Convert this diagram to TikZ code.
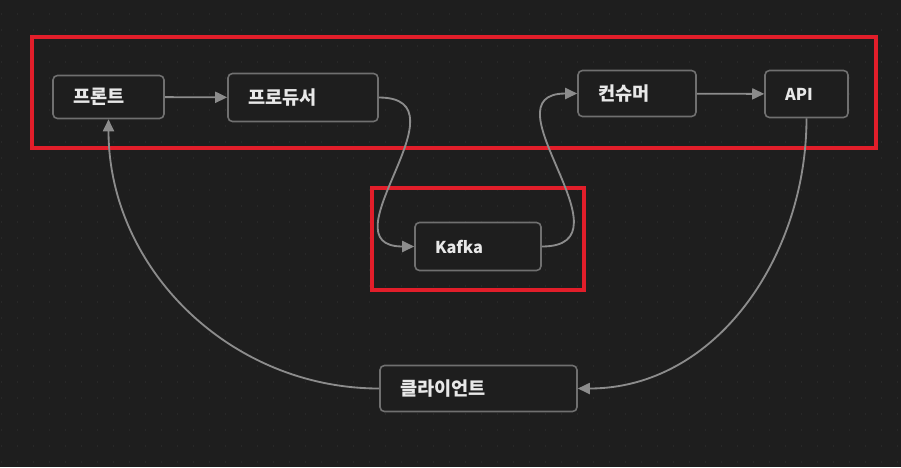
\documentclass[tikz,border=0pt]{standalone}
\usepackage{fontspec}
\setmainfont{Noto Sans CJK KR}
\usetikzlibrary{arrows.meta}
\definecolor{canvasbg}{RGB}{30,30,30}
\definecolor{griddot}{RGB}{52,52,52}
\definecolor{boxline}{RGB}{112,112,112}
\definecolor{boxfill}{RGB}{30,30,30}
\definecolor{linkgrey}{RGB}{140,140,140}
\definecolor{hilite}{RGB}{226,30,42}
\definecolor{labeltext}{RGB}{232,232,232}
\tikzset{
  box/.style={rectangle, rounded corners=2.5pt, draw=boxline, fill=boxfill, line width=0.9pt, text=labeltext, font=\bfseries\fontsize{10.6}{12}\selectfont, align=left, inner xsep=0.4cm, inner ysep=0pt},
  latbox/.style={box, font=\bfseries\fontsize{9.3}{11}\selectfont},
  arr/.style={-{Triangle[length=2.4mm,width=2.2mm]}, line width=1.05pt, draw=linkgrey},
  zone/.style={draw=hilite, line width=2.3pt},
  dot/.style={fill=griddot},
}

\begin{document}
\begin{tikzpicture}[x=0.02cm,y=-0.02cm]
  \fill[canvasbg] (0,0) rectangle (901,467);
  \useasboundingbox (0,0) rectangle (901,467);
  \foreach \gx in {1.5,17.5,...,900}{
    \foreach \gy in {14,30,...,466}{\fill[dot] (\gx,\gy) circle (0.7);}
  }
  \draw[zone] (32,37) rectangle (876,148);
  \draw[zone] (372,188) rectangle (584,290);
  \node[box,text width=1.42cm,minimum height=0.86cm] (front) at (108.5,97) {프론트};
  \node[box,text width=2.2cm,minimum height=0.96cm] (producer) at (303,97.5) {프로듀서};
  \node[box,text width=1.56cm,minimum height=0.92cm] (consumer) at (637,93.5) {컨슈머};
  \node[latbox,text width=0.86cm,minimum height=0.94cm] (api) at (806.5,94) {API};
  \node[latbox,text width=1.72cm,minimum height=0.96cm] (kafka) at (478,246.5) {Kafka};
  \node[box,text width=3.14cm,minimum height=0.92cm] (client) at (478.5,388.5) {클라이언트};
  \draw[arr] (front) -- (producer);
  \draw[arr] (consumer) -- (api);
  \draw[arr] (producer.east) to[out=0,in=180,looseness=1.55] (kafka.west);
  \draw[arr] (kafka.east) to[out=0,in=180,looseness=1.55] (consumer.west);
  \draw[arr] (api.south) to[out=-90,in=0] (client.east);
  \draw[arr] (client.west) to[out=180,in=-90] (front.south);
\end{tikzpicture}
\end{document}
